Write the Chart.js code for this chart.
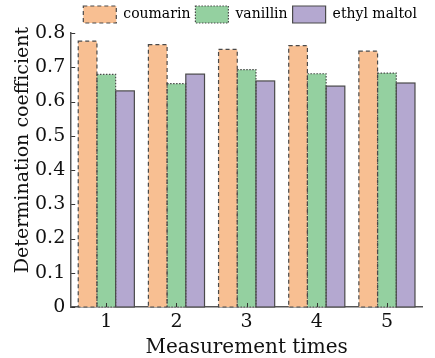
<!DOCTYPE html>
<html lang="en">
<head>
    <meta charset="UTF-8">
    <title>Determination coefficient</title>
    <script src="https://cdn.jsdelivr.net/npm/chart.js"></script>
    <style>
        body { margin: 0; background: #fff; }
        #wrap { width: 435px; height: 358px; }
    </style>
</head>
<body>
    <div id="wrap"><canvas id="detChart" width="435" height="358"></canvas></div>

    <script>
        // data
        const times = ['1', '2', '3', '4', '5'];
        const coumarin = [0.776, 0.766, 0.752, 0.763, 0.747];
        const vanillin = [0.679, 0.652, 0.693, 0.681, 0.683];
        const ethylMaltol = [0.631, 0.680, 0.660, 0.645, 0.654];
        const yTicks = [0, 0.1, 0.2, 0.3, 0.4, 0.5, 0.6, 0.7, 0.8];
        const yTitle = 'Determination coefficient';

        const serif = '"DejaVu Serif", "Liberation Serif", serif';
        const dashes = [[4, 3], [1.5, 1.5], []];

        // bar outlines with dashes (bar element has no borderDash),
        // inward ticks and the y title (sits a bit above centre in the original)
        const extras = {
            id: 'extras',
            afterDatasetsDraw(chart) {
                const ctx = chart.ctx;
                chart.data.datasets.forEach((ds, i) => {
                    const meta = chart.getDatasetMeta(i);
                    meta.data.forEach(bar => {
                        const p = bar.getProps(['x', 'y', 'base', 'width'], true);
                        ctx.save();
                        ctx.strokeStyle = '#4a4a4a';
                        ctx.lineWidth = 1.2;
                        ctx.setLineDash(dashes[i]);
                        ctx.strokeRect(p.x - p.width / 2, p.y, p.width, p.base - p.y);
                        ctx.restore();
                    });
                });
            },
            afterDraw(chart) {
                const ctx = chart.ctx, a = chart.chartArea;
                ctx.save();
                ctx.strokeStyle = '#333';
                ctx.lineWidth = 1;
                chart.scales.y.ticks.forEach((t, i) => {
                    const y = Math.round(chart.scales.y.getPixelForTick(i)) + 0.5;
                    ctx.beginPath(); ctx.moveTo(a.left, y); ctx.lineTo(a.left + 4, y); ctx.stroke();
                });
                chart.scales.x.ticks.forEach((t, i) => {
                    const x = Math.round(chart.scales.x.getPixelForTick(i)) + 0.5;
                    ctx.beginPath(); ctx.moveTo(x, a.bottom); ctx.lineTo(x, a.bottom - 4); ctx.stroke();
                });
                ctx.translate(23, 150);
                ctx.rotate(-Math.PI / 2);
                ctx.fillStyle = '#111';
                ctx.font = '19px ' + serif;
                ctx.textAlign = 'center';
                ctx.textBaseline = 'middle';
                ctx.fillText(yTitle, 0, 0);
                ctx.restore();
            }
        };

        new Chart(document.getElementById('detChart'), {
            type: 'bar',
            data: {
                labels: times,
                datasets: [
                    { label: 'coumarin', data: coumarin, backgroundColor: 'rgb(248,191,146)', borderWidth: 0 },
                    { label: 'vanillin', data: vanillin, backgroundColor: 'rgb(148,208,160)', borderWidth: 0 },
                    { label: 'ethyl maltol', data: ethylMaltol, backgroundColor: 'rgb(180,168,208)', borderWidth: 0 }
                ]
            },
            options: {
                responsive: false,
                animation: false,
                layout: { padding: { left: 29, right: 13, top: 1, bottom: 0 } },
                datasets: { bar: { categoryPercentage: 0.8, barPercentage: 1.0 } },
                plugins: {
                    tooltip: { enabled: false },
                    legend: {
                        position: 'top',
                        align: 'end',
                        labels: {
                            color: '#111',
                            font: { family: serif, size: 14 },
                            boxWidth: 33,
                            boxHeight: 17,
                            padding: 5,
                            generateLabels(chart) {
                                return chart.data.datasets.map((ds, i) => ({
                                    text: ds.label,
                                    fillStyle: ds.backgroundColor,
                                    strokeStyle: '#4a4a4a',
                                    lineWidth: 1.2,
                                    lineDash: dashes[i],
                                    datasetIndex: i
                                }));
                            }
                        }
                    }
                },
                scales: {
                    x: {
                        grid: { display: false, drawTicks: false },
                        border: { display: true, color: '#555', width: 1.5 },
                        ticks: { color: '#111', font: { family: serif, size: 19, lineHeight: 1 }, padding: 6 },
                        title: { display: true, text: 'Measurement times', color: '#111', font: { family: serif, size: 20, lineHeight: 1 }, padding: { top: 0, bottom: 0 } }
                    },
                    y: {
                        min: 0,
                        max: 0.8,
                        afterBuildTicks(scale) { scale.ticks = yTicks.map(v => ({ value: v })); },
                        grid: { display: false, drawTicks: false },
                        border: { display: true, color: '#555', width: 1.5 },
                        ticks: {
                            color: '#111',
                            font: { family: serif, size: 19 },
                            padding: 6,
                            callback: v => (v === 0 ? '0' : v.toFixed(1))
                        }
                    }
                }
            },
            plugins: [extras]
        });
    </script>
</body>
</html>
